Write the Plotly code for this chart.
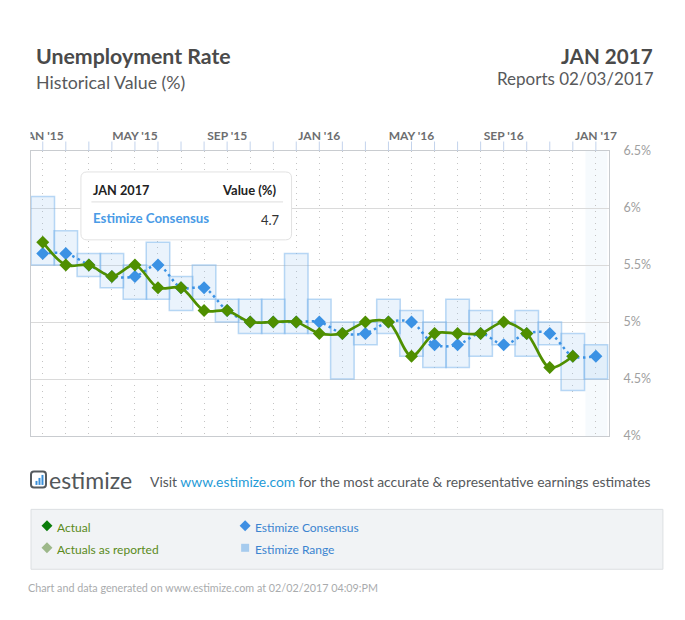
import plotly.graph_objects as go

# Chart data
months = list(range(25))
tick_labels = ["JAN '15", "", "", "", "MAY '15", "", "", "", "SEP '15", "", "", "",
               "JAN '16", "", "", "", "MAY '16", "", "", "", "SEP '16", "", "", "",
               "JAN '17"]
actual = [5.7, 5.5, 5.5, 5.4, 5.5, 5.3, 5.3, 5.1, 5.1, 5.0, 5.0, 5.0,
          4.9, 4.9, 5.0, 5.0, 4.7, 4.9, 4.9, 4.9, 5.0, 4.9, 4.6, 4.7]
consensus = [5.6, 5.6, 5.5, 5.4, 5.4, 5.5, 5.3, 5.3, 5.1, 5.0, 5.0, 5.0,
             5.0, 4.9, 4.9, 5.0, 5.0, 4.8, 4.8, 4.9, 4.8, 4.9, 4.9, 4.7, 4.7]
range_low = [5.5, 5.5, 5.4, 5.3, 5.2, 5.2, 5.1, 5.2, 5.0, 4.9, 4.9, 4.9,
             4.9, 4.5, 4.8, 4.9, 4.7, 4.6, 4.6, 4.7, 4.8, 4.7, 4.8, 4.4, 4.5]
range_high = [6.1, 5.8, 5.6, 5.6, 5.5, 5.7, 5.4, 5.5, 5.2, 5.2, 5.2, 5.6,
              5.2, 5.0, 5.0, 5.2, 5.1, 5.0, 5.2, 5.1, 5.0, 5.1, 5.0, 4.9, 4.8]
y_ticks = [4, 4.5, 5, 5.5, 6, 6.5]
y_tick_text = ["4%", "4.5%", "5%", "5.5%", "6%", "6.5%"]

FONT = "Lato"
W, H = 685, 620
L, R, T, B = 30.5, 609.5, 150.5, 436.0


def px(x):
    return (x - L) / (R - L)


def py(y):
    return (B - y) / (B - T)


def rect(x0, y0, x1, y1, **kw):
    return dict(type="rect", xref="paper", yref="paper", x0=px(x0), x1=px(x1),
                y0=py(y1), y1=py(y0), **kw)


def rounded(x0, y0, x1, y1, r, **kw):
    p = (f"M {px(x0 + r)} {py(y0)} L {px(x1 - r)} {py(y0)} Q {px(x1)} {py(y0)} {px(x1)} {py(y0 + r)} "
         f"L {px(x1)} {py(y1 - r)} Q {px(x1)} {py(y1)} {px(x1 - r)} {py(y1)} "
         f"L {px(x0 + r)} {py(y1)} Q {px(x0)} {py(y1)} {px(x0)} {py(y1 - r)} "
         f"L {px(x0)} {py(y0 + r)} Q {px(x0)} {py(y0)} {px(x0 + r)} {py(y0)} Z")
    return dict(type="path", xref="paper", yref="paper", path=p, **kw)


def diamond(cx, cy, r, color):
    p = (f"M {px(cx)} {py(cy - r)} L {px(cx + r)} {py(cy)} "
         f"L {px(cx)} {py(cy + r)} L {px(cx - r)} {py(cy)} Z")
    return dict(type="path", xref="paper", yref="paper", path=p,
                fillcolor=color, line=dict(width=0), layer="above")


def text(x, y, s, size, color, anchor="left", bold=False):
    return dict(xref="paper", yref="paper", x=px(x), y=py(y), text=f"<b>{s}</b>" if bold else s,
                showarrow=False, xanchor=anchor, yanchor="middle",
                font=dict(family=FONT, size=size, color=color), borderpad=0, align=anchor)


fig = go.Figure()

# Estimate range columns
fig.add_bar(x=months, y=[h - l for h, l in zip(range_high, range_low)], base=range_low, width=1.02,
            marker=dict(color="rgba(150,195,240,0.2)", line=dict(color="rgba(120,180,235,0.5)", width=1.5)),
            showlegend=False, cliponaxis=True)

# Consensus and actual series
fig.add_scatter(x=months, y=consensus, mode="lines+markers", showlegend=False,
                line=dict(color="#3b92e4", width=2.5, dash="2.5px,3.5px", shape="spline", smoothing=0.9),
                marker=dict(symbol="diamond", size=10, color="#3b92e4"))
fig.add_scatter(x=months[:len(actual)], y=actual, mode="lines+markers", showlegend=False,
                line=dict(color="#4f8f00", width=2.7, shape="spline", smoothing=0.9),
                marker=dict(symbol="diamond", size=10, color="#4f8f00"))

shapes = [
    # Current-period highlight
    dict(type="rect", xref="x", yref="paper", x0=23.55, x1=24.5, y0=0, y1=1,
         fillcolor="rgba(170,205,240,0.11)", line=dict(width=0), layer="below"),
    # Hides the part of the first tick label that runs past the plot's left edge
    rect(0, 128, 30, 148, fillcolor="white", line=dict(width=0), layer="above"),
    # Tooltip
    rounded(80.5, 171.5, 291.5, 239.5, 6, fillcolor="white", line=dict(color="#e2e2e2", width=1), layer="above"),
    dict(type="line", xref="paper", yref="paper", x0=px(91), x1=px(283), y0=py(201.5), y1=py(201.5),
         line=dict(color="#dddddd", width=1), layer="above"),
    # Legend panel
    rect(30.5, 509.5, 663.5, 569.5, fillcolor="#f1f3f5", line=dict(color="#dcdfe2", width=1), layer="above"),
    diamond(46.5, 526, 5.5, "#0a7d0a"),
    diamond(46.5, 548, 5.5, "#9db88a"),
    diamond(245, 526, 5.5, "#3f8fe3"),
    rect(241, 544, 249, 552, fillcolor="#a6cbee", line=dict(width=0), layer="above"),
    # Logo mark
    rounded(30.5, 471.5, 45.5, 487.5, 3, fillcolor="rgba(0,0,0,0)", line=dict(color="#555a5e", width=2), layer="above"),
]
for x0, y0, x1, y1 in [(41, 475, 43, 485), (38, 478, 40, 485), (35, 481, 37, 485)]:
    shapes.append(rect(x0, y0, x1, y1, fillcolor="#3a8fd8", line=dict(width=0), layer="above"))
# Monthly tick marks above the plot
for m in months:
    shapes.append(dict(type="line", xref="x", yref="paper", x0=m, x1=m, y0=1, y1=py(141),
                       line=dict(color="#c3d3ec", width=1), layer="above"))

annotations = [
    text(35, 55, "Unemployment Rate", 21.3, "#4a4a4a", bold=True),
    text(35, 81, "Historical Value (%)", 17.8, "#58595b"),
    text(654.5, 55.5, "JAN 2017", 20.6, "#4a4a4a", anchor="right", bold=True),
    text(656, 78, "Reports 02/03/2017", 17, "#58595b", anchor="right"),
    text(92, 189.5, "JAN 2017", 12.7, "#222222", bold=True),
    text(278, 189.5, "Value (%)", 13, "#222222", anchor="right", bold=True),
    text(92, 217.5, "Estimize Consensus", 13.3, "#4a9be6", bold=True),
    text(281, 219.5, "4.7", 13, "#333333", anchor="right"),
    text(48, 480, "estimize", 23, "#53575a"),
    text(149, 481.5, 'Visit <span style="color:#1f9bd7">www.estimize.com</span> for the most accurate &amp; representative earnings estimates',
         13.9, "#55585b"),
    text(56, 528, "Actual", 12, "#5a8a1a"),
    text(56, 550, "Actuals as reported", 12, "#5a8a1a"),
    text(254, 528, "Estimize Consensus", 12, "#3b84d0"),
    text(254, 550, "Estimize Range", 12, "#3b84d0"),
    text(26.5, 588, "Chart and data generated on www.estimize.com at 02/02/2017 04:09:PM", 10.75, "#a9abad"),
]

fig.update_layout(
    width=W, height=H, margin=dict(l=L, r=W - R, t=T, b=H - B, pad=0),
    paper_bgcolor="white", plot_bgcolor="white", barmode="overlay",
    shapes=shapes, annotations=annotations,
    xaxis=dict(range=[-0.51, 24.57], side="top", tickmode="array", tickvals=months, ticktext=tick_labels,
               tickangle=0, ticks="", 
               tickfont=dict(family=FONT, size=12, color="#6d6e70", weight="bold"), ticklabelstandoff=5,
               showgrid=True, gridcolor="#c4c4c4", griddash="1px,5px", gridwidth=1, zeroline=False,
               showline=True, linecolor="#c9ccd0", linewidth=1, mirror=True),
    yaxis=dict(range=[4, 6.5], side="right", tickmode="array", tickvals=y_ticks, ticktext=y_tick_text,
               ticks="", tickfont=dict(family=FONT, size=12.5, color="#a0a0a0"), ticklabelstandoff=11,
               showgrid=True, gridcolor="#dadada", gridwidth=1, zeroline=False,
               showline=True, linecolor="#c9ccd0", linewidth=1, mirror=True),
)

fig.write_html("out.html")
